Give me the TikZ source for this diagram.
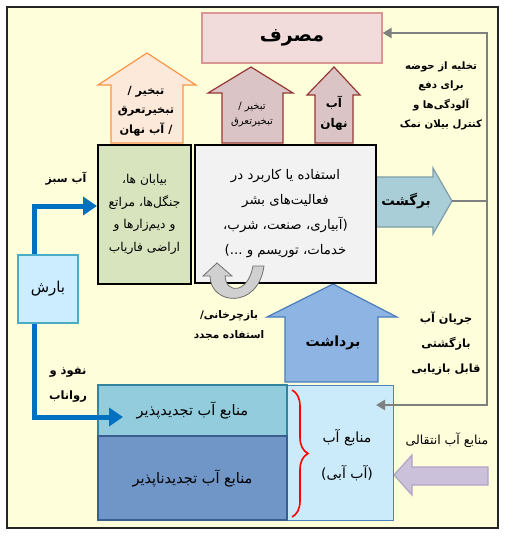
\documentclass[tikz,border=0pt]{standalone}
\usepackage{fontspec}
\TeXXeTstate=1
\newfontfamily\fa[Script=Arabic]{DejaVu Sans}
\usetikzlibrary{arrows.meta,decorations.pathreplacing,calc}
\newcommand\RL[1]{\beginR #1\endR}
\definecolor{bg}{HTML}{FFFEDB}
\definecolor{cmasraf}{HTML}{F2DCDB}
\definecolor{cmasrafd}{HTML}{D99694}
\definecolor{corange}{HTML}{FDE9D9}
\definecolor{corang.d}{HTML}{F79646}
\definecolor{cmauve}{HTML}{DBC4C6}
\definecolor{cmauved}{HTML}{953735}
\definecolor{cgreen}{HTML}{D7E4BD}
\definecolor{cgray}{HTML}{F2F2F2}
\definecolor{cback}{HTML}{A9CED8}
\definecolor{cbackd}{HTML}{7F9DA8}
\definecolor{cwith}{HTML}{8DB4E2}
\definecolor{cwithd}{HTML}{4A7EBB}
\definecolor{cres}{HTML}{CCEBFA}
\definecolor{cresd}{HTML}{4F81BD}
\definecolor{cren}{HTML}{93CDDD}
\definecolor{crend}{HTML}{31859C}
\definecolor{cnon}{HTML}{6F96C7}
\definecolor{cnond}{HTML}{3A5F8E}
\definecolor{crain}{HTML}{CCECFF}
\definecolor{craind}{HTML}{4BACC6}
\definecolor{cblue}{HTML}{0070C0}
\definecolor{cline}{HTML}{808080}
\definecolor{cpurp}{HTML}{CCC1DA}
\definecolor{cpurpd}{HTML}{B3A2C7}
\definecolor{crec}{HTML}{D0D0D0}
\definecolor{crecd}{HTML}{6E6E6E}
\begin{document}
\begin{tikzpicture}[x=1pt,y=-1pt,
  box/.style={rectangle, inner sep=0pt, align=center, font=\fa},
  lbl/.style={inner sep=0pt, align=center, font=\fa},
  bluearrow/.style={draw=cblue, line width=5pt, -{Triangle[length=14pt,width=18pt]}},
  grayline/.style={draw=cline, line width=2.5pt},
  grayarrow/.style={grayline, -{Triangle[length=9pt,width=10pt]}},
  bigarrow/.style={line width=1.2pt, line join=miter}
]
\useasboundingbox (0,0) rectangle (513,538);
\fill[white] (0,0) rectangle (513,538);
\draw[fill=bg, draw=black!85, line width=1.2pt] (7,7) rectangle (498,528);

% upward arrows
\draw[bigarrow, fill=corange, draw=corang.d] (111,143) -- (111,85) -- (98,85) -- (147,53) -- (196,85) -- (183,85) -- (183,143) -- cycle;
\draw[bigarrow, fill=cmauve, draw=cmauved] (222,143) -- (222,93) -- (208,93) -- (251,67) -- (293,93) -- (283,93) -- (283,143) -- cycle;
\draw[bigarrow, fill=cmauve, draw=cmauved] (315,143) -- (315,95) -- (307,95) -- (334,67) -- (360,95) -- (353,95) -- (353,143) -- cycle;
% return arrow
\draw[bigarrow, fill=cback, draw=cbackd] (376,177) -- (433,177) -- (433,168) -- (452,201) -- (433,234) -- (433,227) -- (376,227) -- cycle;
\coordinate (bgtip) at (452,201);
% withdrawal arrow
\draw[bigarrow, fill=cwith, draw=cwithd] (285,382) -- (285,317) -- (267,317) -- (333,284) -- (397,317) -- (378,317) -- (378,382) -- cycle;
% transfer arrow
\draw[bigarrow, fill=cpurp, draw=cpurpd] (488,467) -- (412,467) -- (412,455) -- (394,475) -- (412,495) -- (412,485) -- (488,485) -- cycle;

% boxes
\node[box, fill=cmasraf, draw=cmasrafd, line width=1.2pt, minimum width=180pt, minimum height=50pt] (masraf) at (292,38) {\bfseries\fontsize{19}{22}\selectfont\RL{مصرف}};
\node[box, fill=cgreen, draw=black, line width=2pt, minimum width=93pt, minimum height=139pt, font=\fa\fontsize{12.2}{22.5}\selectfont] (green) at (144.5,214.5)
  {\RL{بیابان ها،}\\\RL{جنگل^^^^200cها، مراتع}\\\RL{و دیم^^^^200cزارها و}\\\RL{اراضی فاریاب}};
\node[box, fill=cgray, draw=black, line width=2pt, minimum width=181pt, minimum height=138pt, font=\fa\fontsize{13.3}{25}\selectfont] (central) at (285.5,214)
  {\RL{استفاده یا کاربرد در}\\\RL{فعالیت^^^^200cهای بشر}\\\RL{(آبیاری، صنعت، شرب،}\\\RL{خدمات، توریسم و ...)}};
\node[box, fill=crain, draw=craind, line width=1.2pt, minimum width=60pt, minimum height=68pt, font=\fa\fontsize{15}{17}\selectfont] (barsh) at (48,289) {\RL{بارش}};
\node[box, fill=cres, draw=cresd, line width=1pt, minimum width=106pt, minimum height=135pt] (resrc) at (340,452.5) {};
\node[box, fill=cren, draw=crend, line width=2pt, minimum width=189pt, minimum height=51pt, font=\fa\fontsize{14.5}{16}\selectfont] (renew) at (192.5,410.5) {\RL{منابع آب تجدیدپذیر}};
\node[box, fill=cnon, draw=cnond, line width=2pt, minimum width=189pt, minimum height=84pt, font=\fa\fontsize{14.5}{16}\selectfont] (nonrenew) at (192.5,478) {\RL{منابع آب تجدیدناپذیر}};

% recycle arrow
\draw[fill=crec, draw=crecd, line width=0.8pt] (217,263) -- (232,276) -- (225,276) .. controls (226,294) and (248,294) .. (253,266) -- (264,266) .. controls (258,310) and (210,305) .. (210,276) -- (203,276) -- cycle;

% brace
\draw[red, line width=1.6pt, decorate, decoration={brace, amplitude=16pt}] (292,390) -- (292,517);

% blue arrows
\coordinate (inflow) at (123,417);
\draw[bluearrow] ($(barsh.north)+(-14,0)$) |- ($(green.west)+(0,-8.5)$);
\draw[bluearrow] ($(barsh.south)+(-14,0)$) |- (inflow);

% gray connectors
\coordinate (rail) at (487,201);
\coordinate (retin) at (376,405);
\draw[grayline] (bgtip) -- (rail);
\draw[grayarrow] (rail) |- ($(masraf.east)+(0,-5)$);
\draw[grayarrow] (rail) |- (retin);

% labels
\node[lbl, font=\fa\bfseries\fontsize{11.3}{19.5}\selectfont] (evap1) at (146,111) {\RL{تبخیر /}\\\RL{تبخیرتعرق}\\\RL{/ آب نهان}};
\node[lbl, font=\fa\fontsize{10}{15.5}\selectfont] (evap2) at (252,114.5) {\RL{تبخیر /}\\\RL{تبخیرتعرق}};
\node[lbl, font=\fa\bfseries\fontsize{12}{20.5}\selectfont] (virt) at (334,113) {\RL{آب}\\\RL{نهان}};
\node[lbl, font=\fa\bfseries\fontsize{13.5}{16}\selectfont] (bgl) at (406,201) {\RL{برگشت}};
\node[lbl, font=\fa\bfseries\fontsize{14}{16}\selectfont] (bdl) at (333,343) {\RL{برداشت}};
\node[lbl, font=\fa\bfseries\fontsize{10.2}{19.3}\selectfont] (drain) at (441,96) {\RL{تخلیه از حوضه}\\\RL{برای دفع}\\\RL{آلودگی^^^^200cها و}\\\RL{کنترل بیلان نمک}};
\node[lbl, font=\fa\bfseries\fontsize{11.3}{25}\selectfont] (retflow) at (446,343) {\RL{جریان آب}\\\RL{بازگشتی}\\\RL{قابل بازیابی}};
\node[lbl, font=\fa\bfseries\fontsize{11}{14}\selectfont] (green-w) at (66,179) {\RL{آب سبز}};
\node[lbl, font=\fa\bfseries\fontsize{11.5}{25}\selectfont] (infl) at (68,384.5) {\RL{نفوذ و}\\\RL{رواناب}};
\node[lbl, font=\fa\bfseries\fontsize{10.5}{20}\selectfont] (recl) at (229,325) {\RL{بازچرخانی/}\\\RL{استفاده مجدد}};
\node[lbl, font=\fa\fontsize{14}{36}\selectfont] (resl) at (347,455) {\RL{منابع آب}\\\RL{(آب آبی)}};
\node[lbl, font=\fa\fontsize{12.5}{14}\selectfont] (trl) at (447,440) {\RL{منابع آب انتقالی}};
\end{tikzpicture}
\end{document}
